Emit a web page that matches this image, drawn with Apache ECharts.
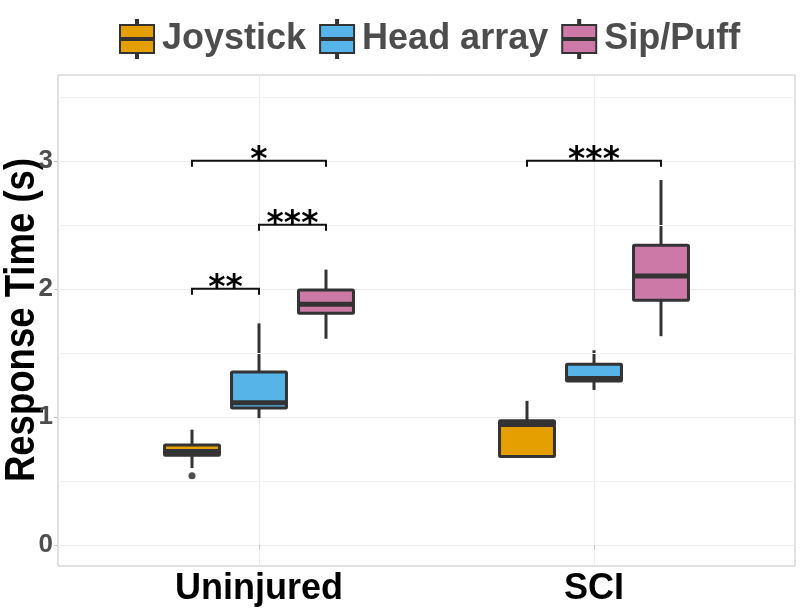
<!DOCTYPE html>
<html><head><meta charset="utf-8">
<script src="https://cdn.jsdelivr.net/npm/echarts@6/dist/echarts.min.js"></script>
<style>html,body{margin:0;padding:0;background:#fff}#c{width:800px;height:608px}</style>
</head><body><div id="c"></div>
<script>
const groups = ['Uninjured', 'SCI'];
const devices = ['Joystick', 'Head array', 'Sip/Puff'];
// per group: [lower whisker, Q1, median, Q3, upper whisker]
const joystick  = [[0.60, 0.70, 0.73, 0.78, 0.90], [0.69, 0.69, 0.94, 0.97, 1.125]];
const headArray = [[0.99, 1.07, 1.11, 1.35, 1.73], [1.21, 1.28, 1.30, 1.41, 1.52]];
const sipPuff   = [[1.61, 1.81, 1.88, 1.99, 2.15], [1.63, 1.91, 2.10, 2.34, 2.85]];
const outlierGroup = [0];
const outlierDevice = [0];
const outlierValue = [0.54];
const bracketGroup = [0, 0, 0, 1];
const bracketFrom = [0, 1, 0, 0];
const bracketTo = [1, 2, 2, 2];
const bracketY = [2.0, 2.5, 3.0, 3.0];
const bracketLabel = ['**', '***', '*', '***'];
const yTicks = [0, 1, 2, 3];
const yMinor = [0.5, 1.5, 2.5, 3.5];
const xTicks = [1, 2];

const colors = ['#E69F00', '#56B4E9', '#CC79A7'];
const dodge = [-0.2, 0, 0.2];
const boxW = 0.164;
const FONT = 'Liberation Sans';
const seriesValues = [joystick, headArray, sipPuff];

const chart = echarts.init(document.getElementById('c'), null, {renderer: 'canvas'});

function boxSeries(d) {
  return {
    type: 'custom',
    name: devices[d],
    itemStyle: {color: colors[d], borderColor: '#333333', borderWidth: 2},
    encode: {x: 0, y: [1, 2, 3, 4, 5]},
    data: seriesValues[d].map((v, g) => [g + 1 + dodge[d]].concat(v)),
    z: 3,
    renderItem: function (params, api) {
      const x = api.value(0);
      const lw = api.coord([x, api.value(1)]);
      const q1 = api.coord([x, api.value(2)]);
      const md = api.coord([x, api.value(3)]);
      const q3 = api.coord([x, api.value(4)]);
      const uw = api.coord([x, api.value(5)]);
      const w = api.size([boxW, 0])[0];
      const xc = q1[0];
      const dark = '#333333';
      return {
        type: 'group',
        children: [
          {type: 'line', shape: {x1: xc, y1: uw[1], x2: xc, y2: q3[1]}, style: {stroke: dark, lineWidth: 3}},
          {type: 'line', shape: {x1: xc, y1: q1[1], x2: xc, y2: lw[1]}, style: {stroke: dark, lineWidth: 3}},
          {type: 'rect', shape: {x: xc - w / 2, y: q3[1], width: w, height: q1[1] - q3[1], r: 1},
            style: {fill: colors[d], stroke: dark, lineWidth: 3}},
          {type: 'line', shape: {x1: xc - w / 2, y1: md[1], x2: xc + w / 2, y2: md[1]}, style: {stroke: dark, lineWidth: 5}}
        ]
      };
    }
  };
}

const legendIcon = 'path://M17,0L19,0L19,5L35,5L35,18L1,18L1,5L17,5Z M1,20L35,20L35,33L19,33L19,38L17,38L17,33L1,33Z';

const option = {
  backgroundColor: '#ffffff',
  animation: false,
  grid: {left: 58, right: 5, top: 75, bottom: 42, show: true, borderColor: '#c4c4c4', borderWidth: 1, backgroundColor: 'transparent'},
  legend: {
    data: devices,
    left: 114, top: 14,
    icon: legendIcon,
    itemWidth: 36, itemHeight: 38, itemGap: 13,
    itemStyle: {borderColor: '#333333', borderWidth: 2},
    textStyle: {fontFamily: FONT, fontSize: 36, fontWeight: 'bold', color: '#4d4d4d', padding: [0, 0, 0, 2]}
  },
  xAxis: {
    type: 'value', min: 0.4, max: 2.6,
    axisLine: {show: false},
    axisTick: {show: true, customValues: xTicks, length: 4, lineStyle: {color: '#c4c4c4'}},
    axisLabel: {customValues: xTicks, formatter: v => groups[Math.round(v) - 1], fontFamily: FONT, fontSize: 36, fontWeight: 'bold', color: '#000', margin: 5},
    splitLine: {show: true, lineStyle: {color: '#ebebeb', width: 1}}
  },
  yAxis: {
    type: 'value', min: -0.165, max: 3.67,
    axisLine: {show: false},
    axisTick: {show: true, customValues: yTicks, length: 4, lineStyle: {color: '#c4c4c4'}},
    axisLabel: {customValues: yTicks, fontFamily: FONT, fontSize: 26, fontWeight: 'bold', color: '#4d4d4d', margin: 5},
    splitLine: {show: true, lineStyle: {color: '#ebebeb', width: 1}}
  },
  graphic: [{
    type: 'text', x: 22, y: 320, rotation: Math.PI / 2, scaleX: 0.87,
    style: {text: 'Response Time (s)', fontFamily: FONT, fontSize: 42, fontWeight: 'bold', fill: '#000', align: 'center', verticalAlign: 'middle'}
  }],
  series: [
    {
      type: 'line', data: [], z: 1, silent: true,
      markLine: {silent: true, symbol: 'none', label: {show: false}, lineStyle: {color: '#f2f2f2', width: 1, type: 'solid'},
        data: yMinor.map(v => ({yAxis: v}))}
    },
    boxSeries(0), boxSeries(1), boxSeries(2),
    {
      type: 'scatter', name: 'outliers', symbolSize: 7, itemStyle: {color: '#222222'}, z: 4,
      data: outlierValue.map((v, i) => [outlierGroup[i] + 1 + dodge[outlierDevice[i]], v])
    },
    {
      type: 'custom', name: 'brackets', z: 5,
      encode: {x: [0, 1], y: 2},
      data: bracketY.map((y, i) => [bracketGroup[i] + 1 + dodge[bracketFrom[i]], bracketGroup[i] + 1 + dodge[bracketTo[i]], y, i]),
      renderItem: function (params, api) {
        const p1 = api.coord([api.value(0), api.value(2)]);
        const p2 = api.coord([api.value(1), api.value(2)]);
        const lab = bracketLabel[api.value(3)];
        return {
          type: 'group',
          children: [
            {type: 'polyline', shape: {points: [[p1[0], p1[1] + 6], [p1[0], p1[1]], [p2[0], p2[1]], [p2[0], p2[1] + 6]]},
              style: {stroke: '#111', lineWidth: 2, fill: null}},
            {type: 'text', x: (p1[0] + p2[0]) / 2, y: p1[1] + 1,
              style: {text: lab, fontFamily: 'DejaVu Sans', fontSize: 33, fontWeight: 'bold', fill: '#000', align: 'center', verticalAlign: 'middle'}}
          ]
        };
      }
    }
  ]
};
chart.setOption(option);
</script></body></html>
